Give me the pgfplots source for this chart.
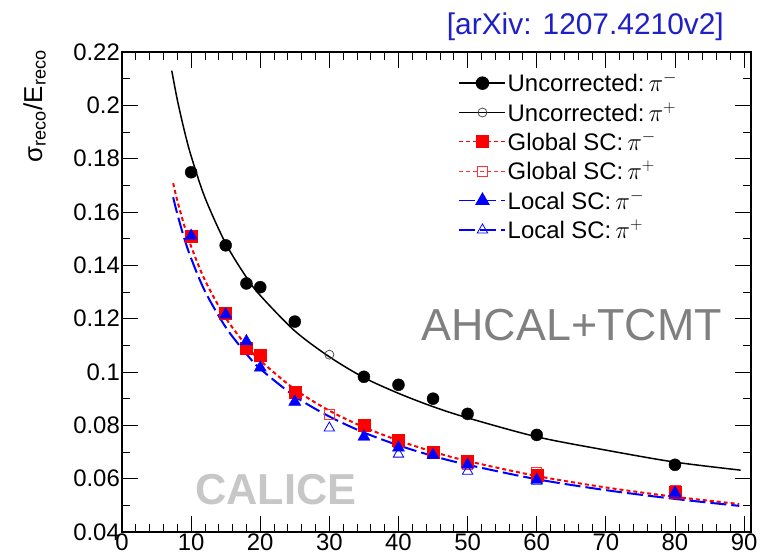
\documentclass[border=0pt]{standalone}
\usepackage{fontspec}
\setmainfont{Liberation Sans}
\usepackage{pgfplots}
\pgfplotsset{compat=1.18}
\begin{document}
\begin{tikzpicture}
\useasboundingbox (0,0) rectangle (773bp,557bp);
\begin{axis}[
  at={(122bp,25bp)}, anchor=south west,
  scale only axis, width=629bp, height=480bp,
  xmin=0, xmax=91, ymin=0.04, ymax=0.22,
  xtick={0,10,20,30,40,50,60,70,80,90},
  xticklabels={0,10,20,30,40,50,60,70,80,90},
  ytick={0.04,0.06,0.08,0.10,0.12,0.14,0.16,0.18,0.20,0.22},
  yticklabels={0.04,0.06,0.08,0.1,0.12,0.14,0.16,0.18,0.2,0.22},
  minor x tick num=4, minor y tick num=1,
  tick align=inside, major tick length=16bp, minor tick length=8bp,
  tick style={black, line width=0.8bp},
  axis line style={line width=1.2bp},
  tick label style={font=\fontsize{24}{26}\selectfont, inner sep=2bp},
  xticklabel style={yshift=-1bp, inner sep=1bp},
  legend style={draw=none, fill=none, at={(rel axis cs:0.535,0.96)}, anchor=north west,
    font=\fontsize{24}{28}\selectfont, row sep=6bp, inner sep=0pt,
    nodes={inner sep=1.5bp},
    /tikz/every even column/.append style={column sep=6bp}},
  legend cell align=left,
  legend image code/.code={\draw[mark repeat=2,mark phase=2,#1] plot coordinates {(0bp,0bp) (23bp,0bp) (46bp,0bp)};},
]
\addlegendimage{black, line width=1.5bp, mark=*, mark size=6bp}
\addlegendentry{Uncorrected:\,$\pi^{-}$}
\addlegendimage{black, line width=0.8bp, mark=o, mark size=4.5bp, mark options={black!70, line width=0.8bp}}
\addlegendentry{Uncorrected:\,$\pi^{+}$}
\addlegendimage{red, line width=1.2bp, dash pattern=on 4bp off 3bp, mark=square*, mark size=6bp, mark options={solid}}
\addlegendentry{Global SC:\,$\pi^{-}$}
\addlegendimage{red!80, line width=1bp, dash pattern=on 4bp off 3bp, mark=square, mark size=5bp, mark options={solid, line width=0.8bp}}
\addlegendentry{Global SC:\,$\pi^{+}$}
\addlegendimage{blue, line width=1.5bp, dash pattern=on 16bp off 5bp, mark=triangle*, mark size=7bp, mark options={solid}}
\addlegendentry{Local SC:\,$\pi^{-}$}
\addlegendimage{blue, line width=1.5bp, dash pattern=on 16bp off 5bp, mark=triangle, mark size=6bp, mark options={solid, line width=0.8bp}}
\addlegendentry{Local SC:\,$\pi^{+}$}

% fit curves
\addplot[forget plot, black, line width=1.5bp, smooth, no marks] coordinates {
(7.2,0.2130) (8,0.2021) (9,0.1907) (10,0.1810) (12,0.1654) (15,0.1482) (18,0.1355) (20,0.1287)
(25,0.1154) (30,0.1057) (35,0.0979) (40,0.0920) (45,0.0870) (50,0.0828) (60,0.0757)
(70,0.0707) (80,0.0662) (89.5,0.0632)};
\addplot[forget plot, red, line width=2bp, dash pattern=on 4bp off 3bp, smooth, no marks] coordinates {
(7.4,0.1708) (8,0.1643) (9,0.1550) (10,0.1471) (12,0.1344) (15,0.1203) (18,0.1099) (20,0.1043)
(25,0.0935) (30,0.0855) (35,0.0793) (40,0.0743) (45,0.0701) (50,0.0666) (60,0.0610)
(70,0.0567) (80,0.0532) (89.3,0.0505)};
\addplot[forget plot, blue, line width=2bp, dash pattern=on 16bp off 5bp, smooth, no marks] coordinates {
(7.4,0.1655) (8,0.1593) (9,0.1502) (10,0.1426) (12,0.1303) (15,0.1168) (18,0.1068) (20,0.1012)
(25,0.0909) (30,0.0833) (35,0.0773) (40,0.0725) (45,0.0685) (50,0.0652) (60,0.0598)
(70,0.0557) (80,0.0524) (89.3,0.0498)};

% data points
\addplot[forget plot, only marks, mark=o, mark size=4.5bp, mark options={black!70, line width=0.8bp}] coordinates {
(30,0.1065)};
\addplot[forget plot, only marks, mark=*, mark size=6bp, black] coordinates {
(10,0.1749) (15,0.1475) (18,0.1332) (20,0.1318) (25,0.1189) (35,0.0982) (40,0.0952)
(45,0.0900) (50,0.0843) (60,0.0764) (80,0.0652)};
\addplot[forget plot, only marks, mark=square, mark size=5bp, mark options={red!80, line width=0.8bp}] coordinates {
(30,0.0840) (40,0.0735) (50,0.0655) (60,0.0625) (80,0.0555)};
\addplot[forget plot, only marks, mark=square*, mark size=6bp, red] coordinates {
(10,0.1509) (15,0.1219) (18,0.1090) (20,0.1063) (25,0.0926) (35,0.0802) (40,0.0746)
(45,0.0700) (50,0.0665) (60,0.0614) (80,0.0550)};
\addplot[forget plot, only marks, mark=triangle, mark size=6bp, mark options={blue, line width=0.8bp}] coordinates {
(30,0.0790) (40,0.0692) (50,0.0628) (60,0.0590) (80,0.0540)};
\addplot[forget plot, only marks, mark=triangle*, mark size=7bp, blue] coordinates {
(10,0.1510) (15,0.1215) (18,0.1115) (20,0.1016) (25,0.0888) (35,0.0757) (40,0.0716)
(45,0.0688) (50,0.0652) (60,0.0595) (80,0.0547)};
\end{axis}
\node[anchor=base east, text=black!50, font=\fontsize{45}{50}\selectfont, inner sep=0pt] at (722bp,216bp) {AHCAL+TCMT};
\node[anchor=base west, text=black!22, font=\bfseries\fontsize{43.5}{48}\selectfont, inner sep=0pt] at (195bp,52bp) {CALICE};
\node[anchor=base east, text={rgb,1:red,0.12;green,0.12;blue,0.78}, font=\fontsize{30}{34}\selectfont, inner sep=0pt] at (724bp,522bp) {[arXiv: 1207.4210v2]};
\node[rotate=90, anchor=base east, font=\fontsize{26}{30}\selectfont, inner sep=0pt] at (42bp,507bp) {σ\textsubscript{reco}/E\textsubscript{reco}};
\end{tikzpicture}
\end{document}
